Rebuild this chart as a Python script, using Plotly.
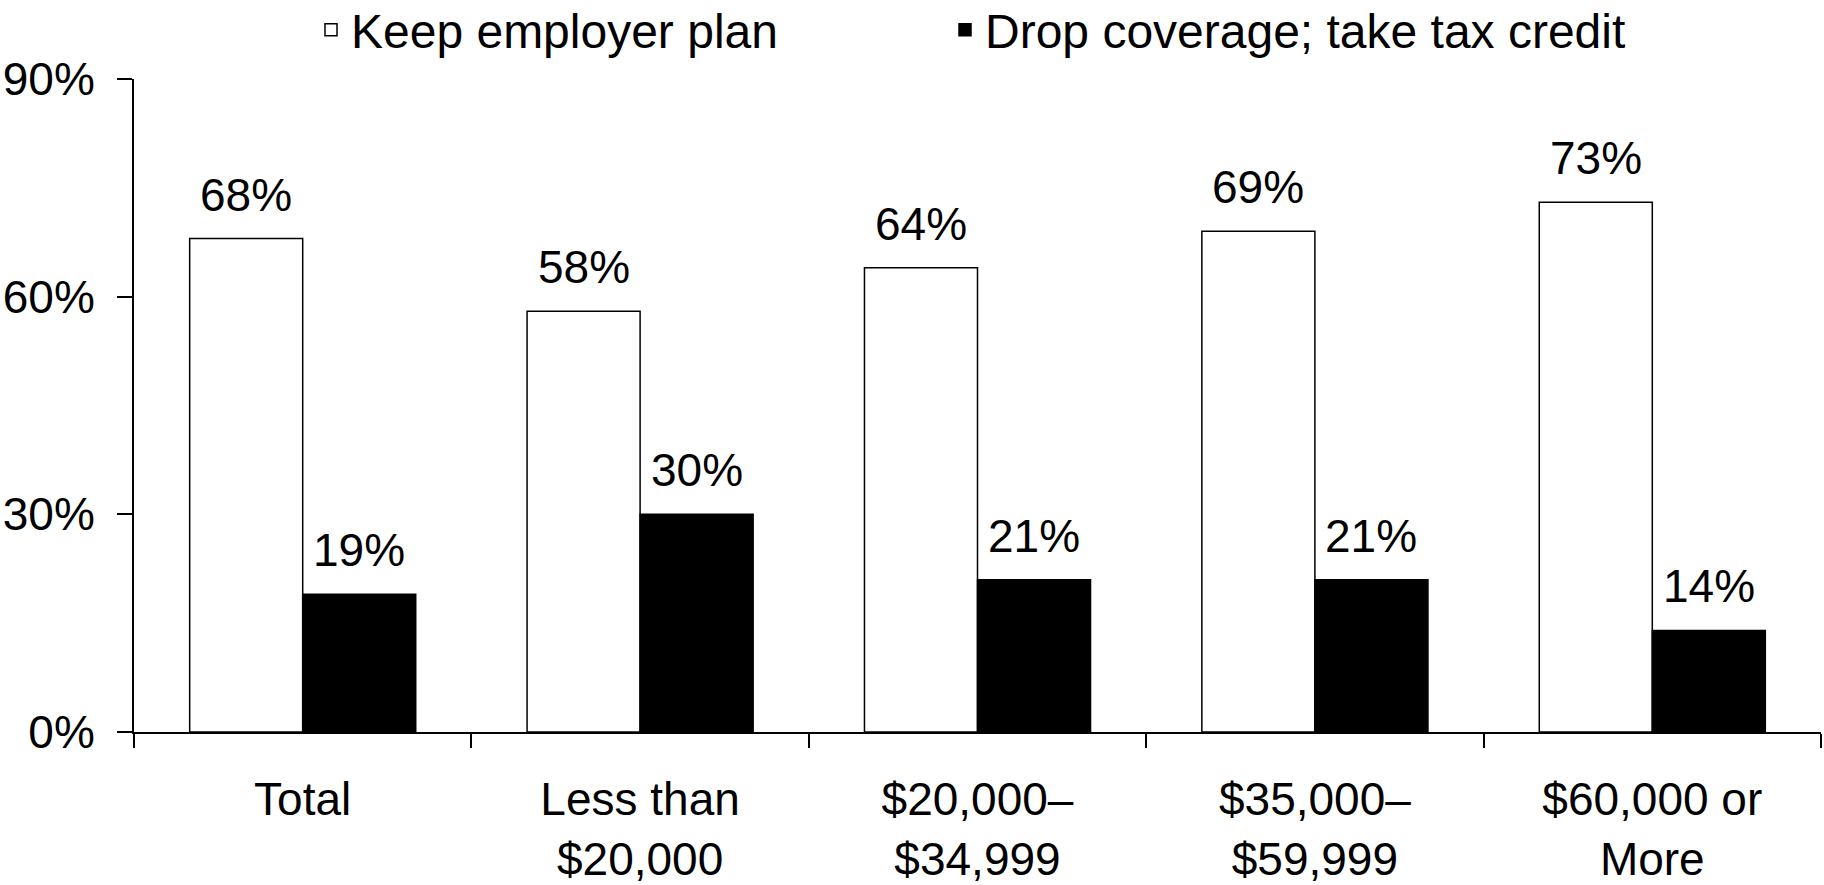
import plotly.graph_objects as go

categories = ["Total", "Less than<br>$20,000", "$20,000–<br>$34,999", "$35,000–<br>$59,999", "$60,000 or<br>More"]
keep_plan = [68, 58, 64, 69, 73]
drop_coverage = [19, 30, 21, 21, 14]
series_names = ["Keep employer plan", "Drop coverage; take tax credit"]
y_ticks = [0, 30, 60, 90]
y_tick_labels = ["0%", "30%", "60%", "90%"]

FONT = "Liberation Sans, Arial, sans-serif"
W, H = 1824, 885
ML, MR, MT, MB = 134, 3, 79, 153
plot_w = W - ML - MR
plot_h = H - MT - MB

fig = go.Figure()
fig.add_trace(go.Bar(
    x=categories, y=keep_plan, name=series_names[0], legend="legend",
    marker=dict(color="white", line=dict(color="black", width=1.5)),
))
fig.add_trace(go.Bar(
    x=categories, y=drop_coverage, name=series_names[1], legend="legend2",
    marker=dict(color="black", line=dict(color="black", width=1.5)),
))

bargap = 0.33
bar_px = plot_w / len(categories) * (1 - bargap) / 2
for vals, sign in ((keep_plan, -1), (drop_coverage, 1)):
    for c, v in zip(categories, vals):
        fig.add_annotation(
            x=c, y=v, xref="x", yref="y", text=f"{v}%", showarrow=False,
            xshift=sign * bar_px / 2, yanchor="bottom", yshift=16,
            font=dict(family=FONT, size=46, color="black"),
        )

legend_common = dict(
    orientation="h", xanchor="left", yanchor="middle",
    y=1 + (MT - 30) / plot_h,
    font=dict(family=FONT, size=48, color="black"),
    bgcolor="rgba(0,0,0,0)", borderwidth=0,
)

fig.update_layout(
    width=W, height=H,
    margin=dict(l=ML, r=MR, t=MT, b=MB, pad=0, autoexpand=False),
    paper_bgcolor="white", plot_bgcolor="white",
    barmode="group", bargap=bargap, bargroupgap=0,
    font=dict(family=FONT, size=46, color="black"),
    showlegend=True,
    legend=dict(x=(311 - ML) / plot_w, **legend_common),
    legend2=dict(x=(945 - ML) / plot_w, **legend_common),
    xaxis=dict(
        automargin=False,
        showline=True, linecolor="black", linewidth=2,
        ticks="outside", tickson="boundaries", ticklen=14, tickwidth=1.5, tickcolor="black",
        showgrid=False, ticklabelstandoff=26,
        tickfont=dict(family=FONT, size=46, color="black"),
    ),
    yaxis=dict(
        automargin=False,
        range=[0, 90], tickvals=y_ticks, ticktext=y_tick_labels,
        showline=True, linecolor="black", linewidth=2,
        ticks="outside", ticklen=15, tickwidth=1.5, tickcolor="black",
        showgrid=False, zeroline=False, ticklabelstandoff=13,
        tickfont=dict(family=FONT, size=46, color="black"),
    ),
)

fig.write_html(
    "out.html",
    config={"displayModeBar": False},
    post_script="document.body.style.margin='0';document.body.style.overflow='hidden';",
)
